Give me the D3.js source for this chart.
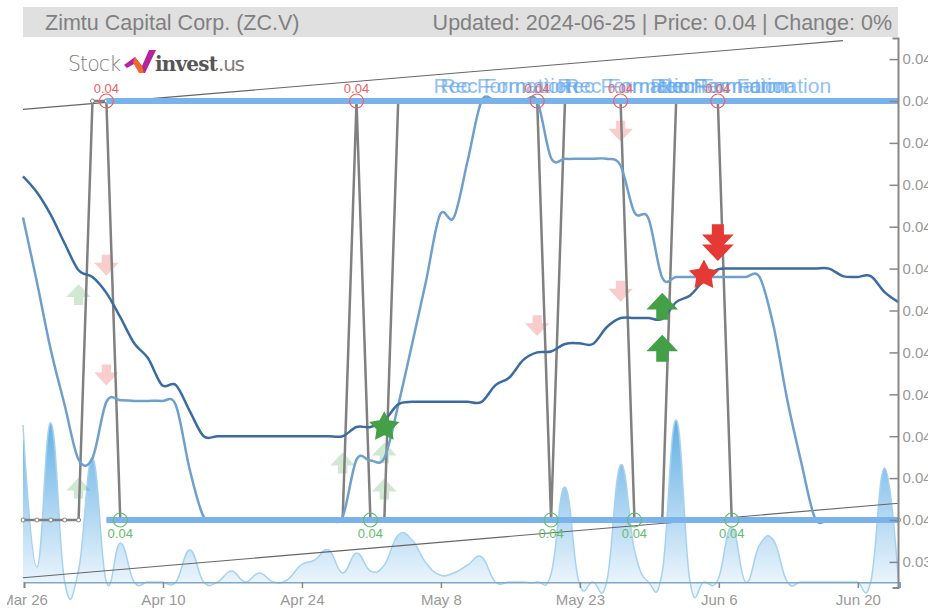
<!DOCTYPE html>
<html>
<head>
<meta charset="utf-8">
<script src="https://cdn.jsdelivr.net/npm/d3@7"></script>
<style>
html, body { margin: 0; padding: 0; background: #fff; overflow: hidden; }
text { font-family: "Liberation Sans", Arial, sans-serif; }
</style>
</head>
<body>
<svg id="chart" width="928" height="610"></svg>
<script>
const titleLeft = "Zimtu Capital Corp. (ZC.V)";
const titleRight = "Updated: 2024-06-25 | Price: 0.04 | Change: 0%";

// trading day index of each x tick
const xTickDays = [0, 10, 20, 30, 40, 50, 60];
const xTickLabels = ["Mar 26", "Apr 10", "Apr 24", "May 8", "May 23", "Jun 6", "Jun 20"];
const yTickValues = [0.0395, 0.04, 0.0405, 0.041, 0.0415, 0.042, 0.0425, 0.043, 0.0435, 0.044, 0.0445, 0.045, 0.0455];
const yTickLabels = ["0.03", "0.04", "0.04", "0.04", "0.04", "0.04", "0.04", "0.04", "0.04", "0.04", "0.04", "0.04", "0.04"];

const closePrice = [
  0.04, 0.04, 0.04, 0.04, 0.04, 0.045, 0.045, 0.04, 0.04, 0.04, 0.04, 0.04, 0.04, 0.04, 0.04, 0.04,
  0.04, 0.04, 0.04, 0.04, 0.04, 0.04, 0.04, 0.04, 0.045, 0.04, 0.04, 0.045, 0.045, 0.045, 0.045, 0.045,
  0.045, 0.045, 0.045, 0.045, 0.045, 0.045, 0.04, 0.045, 0.045, 0.045, 0.045, 0.045, 0.04, 0.04, 0.04, 0.045,
  0.045, 0.045, 0.045, 0.04, 0.04, 0.04, 0.04, 0.04, 0.04, 0.04, 0.04, 0.04, 0.04, 0.04, 0.04, 0.04
];
const smaShort = [
  0.04361, 0.04284, 0.04203, 0.04137, 0.04072, 0.04074, 0.04141, 0.04143, 0.04142, 0.04142, 0.04142, 0.04137, 0.04060, 0.04004, 0.04, 0.04,
  0.04, 0.04, 0.04, 0.04, 0.04, 0.04, 0.04, 0.04004, 0.04072, 0.04071, 0.04074, 0.04137, 0.0421, 0.04285, 0.04364, 0.04361,
  0.04429, 0.045, 0.045, 0.045, 0.045, 0.045, 0.04432, 0.04431, 0.04431, 0.04431, 0.04431, 0.04423, 0.04367, 0.04360, 0.04289, 0.04290,
  0.04290, 0.04290, 0.04290, 0.04290, 0.04290, 0.04290, 0.04232, 0.04143, 0.04069, 0.04002, 0.04, 0.04, 0.04, 0.04, 0.04, 0.04
];
const smaLong = [
  0.04410, 0.04391, 0.04364, 0.04330, 0.04298, 0.04290, 0.04271, 0.04242, 0.04211, 0.04193, 0.04161, 0.04161, 0.04130, 0.04100, 0.04100, 0.04100,
  0.04100, 0.04100, 0.04100, 0.04100, 0.04100, 0.04100, 0.04100, 0.04100, 0.04111, 0.04111, 0.04119, 0.04138, 0.04141, 0.04141, 0.04141, 0.04141,
  0.04141, 0.04141, 0.04161, 0.04170, 0.04191, 0.04200, 0.04201, 0.04210, 0.04211, 0.04210, 0.04230, 0.04241, 0.04241, 0.04241, 0.04240, 0.04260,
  0.04268, 0.04286, 0.04299, 0.04300, 0.04300, 0.04300, 0.04300, 0.04300, 0.04300, 0.04300, 0.04300, 0.04291, 0.04290, 0.04291, 0.04272, 0.04260
];
const volume = [
  15700, 1500, 15900, 0, 1200, 12400, 0, 3900, 0, 0, 0, 0, 3200, 0, 0, 1100,
  0, 900, 0, 200, 1700, 2200, 3200, 900, 2900, 1100, 1700, 4700, 4200, 1900, 700, 900,
  1700, 2500, 0, 0, 0, 0, 800, 9500, 0, 0, 0, 11700, 3200, 0, 1000, 16200,
  0, 0, 200, 5500, 0, 3700, 4200, 0, 0, 0, 0, 0, 0, 0, 11400, 0
];

const resistanceLevel = 0.045;
const supportLevel = 0.04;
const levelStartDay = 6;
const levelEndDay = 63;
const highDays = [6, 24, 37, 43, 50];
const lowDays = [7, 25, 38, 44, 51];
const upperTrendDays = [0, 59];
const upperTrendPrices = [0.0449, 0.04572];
const lowerTrendDays = [0, 63];
const lowerTrendPrices = [0.03931, 0.0402];

const patternLabels = ["Rec Formation", "Rec Formation", "Rec Formation", "Rec Formation", "Rec Formation", "Rec Formation", "Rec Formation"];
const patternDays = [34.5, 35, 43.4, 43.9, 50.1, 50.6, 53.2];

const weakSellDays = [6, 6, 37, 43, 43];
const weakSellPrices = [0.04304, 0.04173, 0.04232, 0.04273, 0.04464];
const weakBuyDays = [4, 4, 23, 26, 26];
const weakBuyPrices = [0.04269, 0.04038, 0.04068, 0.04080, 0.04037];
const strongBuyDays = [46, 46];
const strongBuyPrices = [0.04255, 0.04205];
const strongSellDays = [50, 50];
const strongSellPrices = [0.04337, 0.04325];
const buyStarDays = [26];
const buyStarPrices = [0.04111];
const sellStarDays = [49];
const sellStarPrices = [0.04292];

const svg = d3.select("#chart");
const margin = {left: 23, right: 898.5, top: 38.5, bottom: 588};

const x = d3.scaleLinear().domain([0, 63]).range([margin.left, margin.right]);
const y = d3.scaleLinear().domain([0.04, 0.045]).range([520, 101]);
const yVol = d3.scaleLinear().domain([0, 16000]).range([582, 422]);

const days = closePrice.map((d, i) => i);

const defs = svg.append("defs");
defs.append("clipPath").attr("id", "left-clip").append("rect")
    .attr("x", 6).attr("y", 0).attr("width", 922).attr("height", 610);
const grad = defs.append("linearGradient").attr("id", "vol-grad")
    .attr("gradientUnits", "userSpaceOnUse")
    .attr("x1", 0).attr("x2", 0).attr("y1", yVol(16000)).attr("y2", yVol(0));
grad.append("stop").attr("offset", 0).attr("stop-color", "#64b0e4");
grad.append("stop").attr("offset", 1).attr("stop-color", "#eaf4fc");

// header
svg.append("rect").attr("x", 23).attr("y", 7).attr("width", 875).attr("height", 30).attr("fill", "#e0e0e0");
svg.append("text").attr("x", 45).attr("y", 30).attr("font-size", 21.5).attr("fill", "#808080").text(titleLeft);
svg.append("text").attr("x", 892).attr("y", 30).attr("text-anchor", "end").attr("font-size", 21.5).attr("fill", "#808080").text(titleRight);

// logo
const logo = svg.append("g");
logo.append("text").attr("x", 68).attr("y", 71).attr("font-size", 20.5).attr("fill", "#7c7c7c")
    .style("font-family", "'DejaVu Sans'").style("font-weight", 200).attr("textLength", 53).text("Stock");
logo.append("path").attr("d", "M124,65 L135,57 L142,66 L149,50 L156,50 L145,73 L140,73 L134,64 L127,68 Z").attr("fill", "#b5249a");
logo.append("path").attr("d", "M135,57 L142,66 L144,73 L139,73 L133,62 Z").attr("fill", "#f0682a");
logo.append("text").attr("x", 155).attr("y", 71).attr("font-size", 20).attr("font-weight", "bold").attr("fill", "#555")
    .style("font-family", "'DejaVu Serif'").attr("textLength", 63).text("invest");
logo.append("text").attr("x", 218).attr("y", 71).attr("font-size", 20).attr("fill", "#7c7c7c")
    .style("font-family", "'DejaVu Sans'").attr("textLength", 27).text(".us");

// volume
const volCurve = d3.curveCardinal.tension(-0.3);
const volArea = d3.area().x((d, i) => x(i)).y0(yVol(0)).y1(d => yVol(d)).curve(volCurve);
const volLine = d3.line().x((d, i) => x(i)).y(d => yVol(d)).curve(volCurve);
svg.append("path").datum(volume).attr("d", volArea).attr("fill", "url(#vol-grad)");
svg.append("path").datum(volume).attr("d", volLine).attr("fill", "none").attr("stroke", "#a6d2f0").attr("stroke-width", 1.5);

// weak signals sit under the lines
const arrow = {
  draw(ctx, size) {
    const s = Math.sqrt(size) / 2;
    ctx.moveTo(0, -0.85 * s);
    ctx.lineTo(s, 0.2 * s);
    ctx.lineTo(0.38 * s, 0.2 * s);
    ctx.lineTo(0.38 * s, 0.85 * s);
    ctx.lineTo(-0.38 * s, 0.85 * s);
    ctx.lineTo(-0.38 * s, 0.2 * s);
    ctx.lineTo(-s, 0.2 * s);
    ctx.closePath();
  }
};
const fatStar = {
  draw(ctx, size) {
    const r = Math.sqrt(size) / 2;
    for (let i = 0; i < 10; i++) {
      const a = i * Math.PI / 5 - Math.PI / 2;
      const k = i % 2 ? 0.52 * r : r;
      if (i) ctx.lineTo(k * Math.cos(a), k * Math.sin(a));
      else ctx.moveTo(k * Math.cos(a), k * Math.sin(a));
    }
    ctx.closePath();
  }
};
function drawArrows(dayList, priceList, color, opacity, down, size) {
  svg.append("g").selectAll("path").data(dayList).join("path")
      .attr("d", d3.symbol().type(arrow).size(size))
      .attr("transform", (d, i) => `translate(${x(d)},${y(priceList[i])})` + (down ? " rotate(180)" : ""))
      .attr("fill", color).attr("opacity", opacity);
}
drawArrows(weakSellDays, weakSellPrices, "#e53935", 0.25, true, 600);
drawArrows(weakBuyDays, weakBuyPrices, "#43a047", 0.25, false, 600);

// trend lines
[[upperTrendDays, upperTrendPrices], [lowerTrendDays, lowerTrendPrices]].forEach(t => {
  svg.append("line")
      .attr("x1", x(t[0][0])).attr("y1", y(t[1][0]))
      .attr("x2", x(t[0][1])).attr("y2", y(t[1][1]))
      .attr("stroke", "#666").attr("stroke-width", 1.1);
});

// price
svg.append("path").datum(closePrice)
    .attr("d", d3.line().x((d, i) => x(i)).y(d => y(d)))
    .attr("fill", "none").attr("stroke", "#808080").attr("stroke-width", 2.5);
svg.append("g").selectAll("circle").data(days).join("circle")
    .attr("cx", d => x(d)).attr("cy", d => y(closePrice[d])).attr("r", 2)
    .attr("fill", "#fff").attr("stroke", "#808080").attr("stroke-width", 1);

// moving averages
const smooth = d3.line().x((d, i) => x(i)).y(d => y(d)).curve(d3.curveCatmullRom.alpha(0));
svg.append("path").datum(smaShort).attr("d", smooth).attr("fill", "none").attr("stroke", "#6f9fcb").attr("stroke-width", 2.5);
svg.append("path").datum(smaLong).attr("d", smooth).attr("fill", "none").attr("stroke", "#3c6c9f").attr("stroke-width", 2.5);

// support and resistance
[resistanceLevel, supportLevel].forEach(level => {
  svg.append("line")
      .attr("x1", x(levelStartDay)).attr("x2", x(levelEndDay))
      .attr("y1", y(level)).attr("y2", y(level))
      .attr("stroke", "#7ab3ec").attr("stroke-width", 6);
});

// pattern labels
svg.append("g").selectAll("text").data(patternLabels).join("text")
    .attr("x", (d, i) => x(patternDays[i])).attr("y", 93).attr("text-anchor", "middle")
    .attr("font-size", 21).attr("fill", "#64a8ee").attr("opacity", 0.7).text(d => d);

// high / low markers
svg.append("g").selectAll("circle").data(highDays).join("circle")
    .attr("cx", d => x(d)).attr("cy", y(resistanceLevel)).attr("r", 7)
    .attr("fill", "none").attr("stroke", "#ef6060").attr("stroke-width", 1.2);
svg.append("g").selectAll("text").data(highDays).join("text")
    .attr("x", d => x(d)).attr("y", 93).attr("text-anchor", "middle").attr("font-size", 13).attr("fill", "#ef6060").text("0.04");
svg.append("g").selectAll("circle").data(lowDays).join("circle")
    .attr("cx", d => x(d)).attr("cy", y(supportLevel)).attr("r", 7)
    .attr("fill", "none").attr("stroke", "#66bb6a").attr("stroke-width", 1.2);
svg.append("g").selectAll("text").data(lowDays).join("text")
    .attr("x", d => x(d)).attr("y", 538).attr("text-anchor", "middle").attr("font-size", 13).attr("fill", "#66bb6a").text("0.04");

// strong signals
drawArrows(strongBuyDays, strongBuyPrices, "#43a047", 1, false, 1000);
drawArrows(strongSellDays, strongSellPrices, "#e53935", 1, true, 1000);
const star = d3.symbol().type(fatStar).size(1000);
svg.append("g").selectAll("path").data(buyStarDays).join("path")
    .attr("d", star).attr("transform", (d, i) => `translate(${x(d)},${y(buyStarPrices[i])})`).attr("fill", "#43a047");
svg.append("g").selectAll("path").data(sellStarDays).join("path")
    .attr("d", star).attr("transform", (d, i) => `translate(${x(d)},${y(sellStarPrices[i])})`).attr("fill", "#e53935");

// axes
const xAxis = d3.axisBottom(x).tickValues(xTickDays).tickSize(6).tickSizeOuter(6)
    .tickFormat((d, i) => xTickLabels[i]);
const gx = svg.append("g").attr("transform", "translate(1,582)").attr("clip-path", "url(#left-clip)").call(xAxis);
const yAxis = d3.axisRight(y).tickValues(yTickValues).tickSize(-9).tickSizeOuter(-9)
    .tickFormat((d, i) => yTickLabels[i]);
const gy = svg.append("g").attr("transform", `translate(${margin.right},0)`).call(yAxis);
gy.select(".domain").attr("d", `M-6,${margin.top}H0V${margin.bottom}H-6`);
[gx, gy].forEach(g => {
  g.selectAll(".domain").attr("stroke", "#888").attr("stroke-width", 2).attr("fill", "none");
  g.selectAll(".tick line").attr("stroke", "#888").attr("stroke-width", 1.5);
  g.selectAll(".tick text").attr("fill", "#999").attr("font-size", 15).style("font-family", "'Liberation Sans'");
});
gy.selectAll(".tick text").attr("x", 4);
gx.selectAll(".tick text").attr("y", 12);
gx.select(".domain").attr("stroke", "#7fa7c8");
</script>
</body>
</html>
